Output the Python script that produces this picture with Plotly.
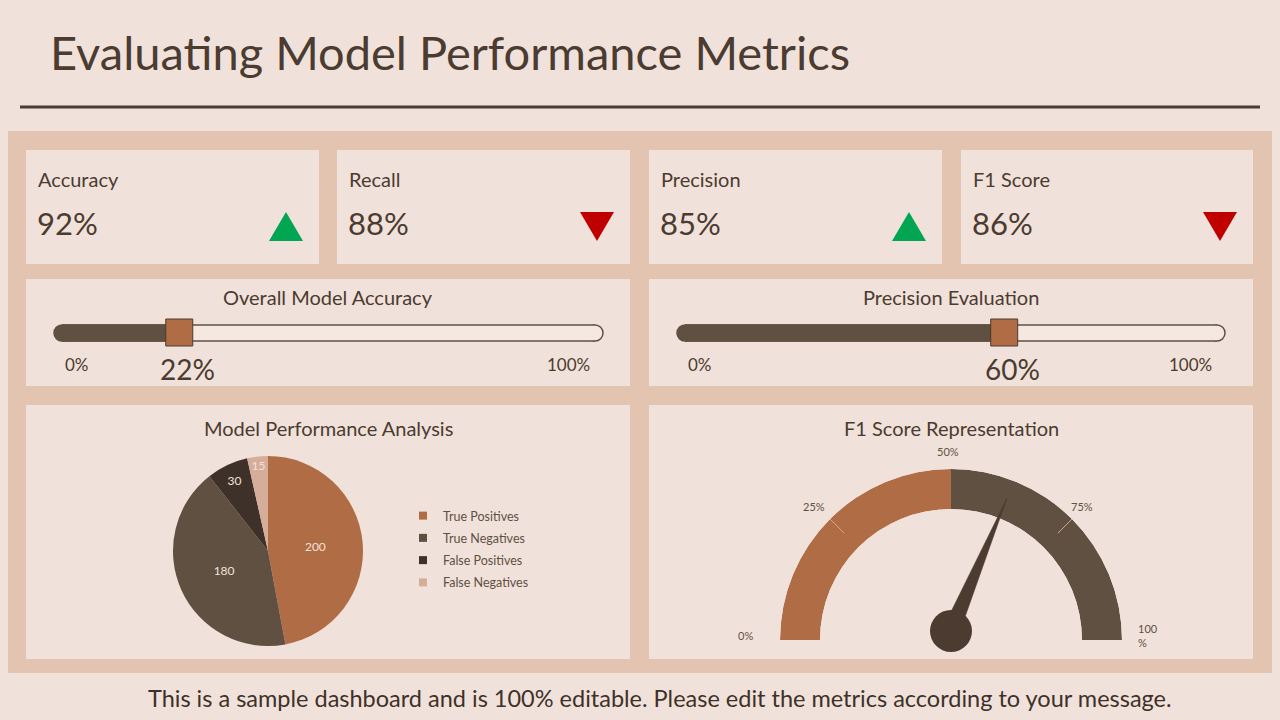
import plotly.graph_objects as go

# ---------------- data ----------------
title_text = "Evaluating Model Performance Metrics"
kpi_labels = ["Accuracy", "Recall", "Precision", "F1 Score"]
kpi_values = ["92%", "88%", "85%", "86%"]
kpi_trend = ["up", "down", "up", "down"]

slider_titles = ["Overall Model Accuracy", "Precision Evaluation"]
slider_values = [22, 60]

pie_title = "Model Performance Analysis"
pie_labels = ["True Positives", "True Negatives", "False Positives", "False Negatives"]
pie_values = [200, 180, 30, 15]

gauge_title = "F1 Score Representation"
gauge_bands = [(0, 50), (50, 100)]
gauge_ticks = [0, 25, 50, 75, 100]
gauge_value = 62.7

footer_text = ("This is a sample dashboard and is 100% editable. "
               "Please edit the metrics according to your message.")

# ---------------- style ----------------
FONT = "Lato"
BG = "#F0E2DA"
PANEL = "#E2C4B1"
CARD = "#F0E2DA"
TXT = "#4B3B30"
ORANGE = "#B06D45"
BROWN = "#5F5042"
DARK = "#3E3129"
PINK = "#D6AD99"
GREEN = "#00A651"
RED = "#C00000"
PIE_COLORS = [ORANGE, BROWN, DARK, PINK]

fig = go.Figure()
shapes = []
anns = []


def ann(x, y, text, size, color=TXT, xanchor="left", xref="x", xshift=0):
    anns.append(dict(x=x, y=y, xref=xref, yref="y", text=text, showarrow=False,
                     xanchor=xanchor, yanchor="middle", xshift=xshift,
                     font=dict(family=FONT, size=size, color=color)))


def rect(x0, y0, x1, y1, color, layer="below"):
    shapes.append(dict(type="rect", xref="x", yref="y", x0=x0, y0=y0, x1=x1, y1=y1,
                       fillcolor=color, line=dict(width=0), layer=layer))


# invisible anchor trace for the pixel overlay axes
fig.add_trace(go.Scatter(x=[0], y=[0], mode="markers", marker=dict(opacity=0),
                         hoverinfo="skip", showlegend=False, xaxis="x", yaxis="y"))

# title + rule
ann(48, 52, title_text, 47, TXT)
shapes.append(dict(type="line", xref="x", yref="y", x0=20, x1=1260, y0=107, y1=107,
                   line=dict(color=TXT, width=3), layer="below"))

# panel
rect(8, 131, 1272, 673, PANEL)

# KPI cards
kpi_x = [(26, 319), (337, 630), (649, 942), (961, 1253)]
for (x0, x1), lab, val, tr in zip(kpi_x, kpi_labels, kpi_values, kpi_trend):
    rect(x0, 150, x1, 264, CARD)
    ann(x0 + 10, 179, lab, 20, TXT)
    ann(x0 + 9, 223, val, 31, TXT)
    tx0, tx1 = x1 - 50, x1 - 16
    if tr == "up":
        path = f"M{tx0},241 L{tx1},241 L{(tx0 + tx1) / 2},212 Z"
        col = GREEN
    else:
        path = f"M{tx0},212 L{tx1},212 L{(tx0 + tx1) / 2},241 Z"
        col = RED
    shapes.append(dict(type="path", xref="x", yref="y", path=path, fillcolor=col,
                       line=dict(width=0), layer="above"))

# slider / chart cards
half_x = [(26, 630), (649, 1253)]
for (x0, x1) in half_x:
    rect(x0, 279, x1, 386, CARD)
    rect(x0, 405, x1, 659, CARD)

# sliders (each on its own 0-100 axis, padded so the round caps are not clipped)
slider_axes = ["x2", "x3"]
track_px = [(62, 595), (685, 1217)]
label_pos = [(77, 568), (700, 1190)]
PAD = 5  # axis units of padding on both sides
for i, (ax, val, ttl) in enumerate(zip(slider_axes, slider_values, slider_titles)):
    cx = (half_x[i][0] + half_x[i][1]) / 2
    ann(cx, 297, ttl, 20, TXT, xanchor="center")
    y0, y1 = 325, 341
    shapes.append(dict(type="circle", xref=ax, yref="y", xsizemode="pixel", xanchor=100,
                       x0=-8, x1=8, y0=y0, y1=y1, fillcolor="#F4E8E1",
                       line=dict(color=BROWN, width=1.5), layer="above"))
    shapes.append(dict(type="circle", xref=ax, yref="y", xsizemode="pixel", xanchor=0,
                       x0=-8, x1=8, y0=y0, y1=y1, fillcolor=BROWN,
                       line=dict(color=BROWN, width=1.5), layer="above"))
    shapes.append(dict(type="rect", xref=ax, yref="y", x0=0, x1=100, y0=y0, y1=y1,
                       fillcolor="#F4E8E1", line=dict(width=0), layer="above"))
    for yy in (y0, y1):
        shapes.append(dict(type="line", xref=ax, yref="y", x0=0, x1=100, y0=yy, y1=yy,
                           line=dict(color=BROWN, width=1.5), layer="above"))
    shapes.append(dict(type="rect", xref=ax, yref="y", x0=0, x1=val, y0=y0 - 0.75, y1=y1 + 0.75,
                       fillcolor=BROWN, line=dict(width=0), layer="above"))
    shapes.append(dict(type="rect", xref=ax, yref="y", xsizemode="pixel", xanchor=val,
                       x0=-13.5, x1=13.5, y0=319, y1=346, fillcolor=ORANGE,
                       line=dict(color=TXT, width=1), layer="above"))
    ann(label_pos[i][0], 364, "0%", 17, TXT, xanchor="center")
    ann(label_pos[i][1], 364, "100%", 17, TXT, xanchor="center")
    ann(val, 369, f"{val}%", 28, TXT, xanchor="center", xref=ax, xshift=8)
    fig.add_trace(go.Scatter(x=[0, 100], y=[333, 333], mode="markers", marker=dict(opacity=0),
                             hoverinfo="skip", showlegend=False, xaxis=ax, yaxis="y"))

# pie
ann(328, 428, pie_title, 20, TXT, xanchor="center")
fig.add_trace(go.Pie(
    labels=pie_labels, values=pie_values, sort=False, direction="clockwise", rotation=0,
    marker=dict(colors=PIE_COLORS, line=dict(width=0)),
    textinfo="value", textposition="inside", insidetextorientation="horizontal",
    textfont=dict(family=FONT, size=12, color="#F0E2DA"),
    domain=dict(x=[173 / 1280, 363 / 1280], y=[1 - 646 / 720, 1 - 456 / 720]),
    hoverinfo="label+value", showlegend=False,
))
# legend entries for the pie slices (one group each so the spacing can be set)
for lab, col in zip(pie_labels, PIE_COLORS):
    fig.add_trace(go.Scatter(x=[None], y=[None], mode="markers", name=lab,
                             marker=dict(symbol="square", size=8, color=col),
                             legendgroup=lab, showlegend=True, xaxis="x", yaxis="y"))

# gauge
ann(951, 428, gauge_title, 20, TXT, xanchor="center")
fig.add_trace(go.Barpolar(
    r=[1 for _ in gauge_bands], base=0,
    theta=[(a + b) / 2 * 1.8 for a, b in gauge_bands],
    width=[(b - a) * 1.8 for a, b in gauge_bands],
    marker=dict(color=[ORANGE, BROWN], line=dict(width=0)),
    subplot="polar", showlegend=False, hoverinfo="skip",
))
for t in (25, 75):
    fig.add_trace(go.Scatterpolar(
        r=[0.5, 1.0], theta=[t * 1.8, t * 1.8], mode="lines",
        line=dict(color="#D9A689", width=1), subplot="polar",
        showlegend=False, hoverinfo="skip"))

th = gauge_value * 1.8
fig.add_trace(go.Scatterpolar(
    r=[0.844, 0.05, 0.05, 0.844], theta=[th, th - 90, th + 90, th],
    mode="lines", fill="toself", fillcolor=TXT, line=dict(color=TXT, width=0.5),
    subplot="polar2", showlegend=False, hoverinfo="skip"))
shapes.append(dict(type="circle", xref="x", yref="y", x0=930, x1=972, y0=610, y1=652,
                   fillcolor=TXT, line=dict(width=0), layer="above"))

gauge_label_pos = {0: (745, 635), 25: (814, 506), 50: (948, 451), 75: (1082, 506)}
for t, (gx, gy) in gauge_label_pos.items():
    ann(gx, gy, f"{t}%", 11, BROWN, xanchor="center")
anns.append(dict(x=1136, y=635, xref="x", yref="y", text="100<br>%", showarrow=False,
                 xanchor="left", yanchor="middle", align="left",
                 font=dict(family=FONT, size=11, color=BROWN)))

# footer
ann(660, 698, footer_text, 23.5, DARK, xanchor="center")


def pad_domain(px0, px1):
    span = px1 - px0
    return [(px0 - span * PAD / 100) / 1280, (px1 + span * PAD / 100) / 1280]


hidden = dict(visible=False, showgrid=False, zeroline=False, fixedrange=True)
fig.update_layout(
    width=1280, height=720, margin=dict(l=0, r=0, t=0, b=0),
    paper_bgcolor=BG, plot_bgcolor="rgba(0,0,0,0)",
    xaxis=dict(range=[0, 1280], domain=[0, 1], anchor="y", **hidden),
    yaxis=dict(range=[720, 0], domain=[0, 1], anchor="x", **hidden),
    xaxis2=dict(range=[-PAD, 100 + PAD], domain=pad_domain(*track_px[0]), anchor="y", **hidden),
    xaxis3=dict(range=[-PAD, 100 + PAD], domain=pad_domain(*track_px[1]), anchor="y", **hidden),
    polar=dict(domain=dict(x=[780 / 1280, 1122 / 1280], y=[(720 - 640) / 720, (720 - 469) / 720]),
               sector=[0, 180], hole=131 / 171, bgcolor="rgba(0,0,0,0)",
               radialaxis=dict(visible=False, range=[0, 1]),
               angularaxis=dict(visible=False, rotation=180, direction="clockwise")),
    polar2=dict(domain=dict(x=[780 / 1280, 1122 / 1280], y=[(720 - 631) / 720, (720 - 460) / 720]),
                sector=[0, 180], bgcolor="rgba(0,0,0,0)",
                radialaxis=dict(visible=False, range=[0, 1]),
                angularaxis=dict(visible=False, rotation=180, direction="clockwise")),
    legend=dict(x=403 / 1280, y=1 - 501 / 720, xanchor="left", yanchor="top",
                bgcolor="rgba(0,0,0,0)", font=dict(family=FONT, size=12.5, color=BROWN),
                traceorder="grouped", tracegroupgap=3,
                itemclick=False, itemdoubleclick=False),
    uniformtext=dict(minsize=12, mode="show"),
    shapes=shapes, annotations=anns, showlegend=True,
    font=dict(family=FONT),
)

fig.write_html("out.html", config={"displayModeBar": False})
